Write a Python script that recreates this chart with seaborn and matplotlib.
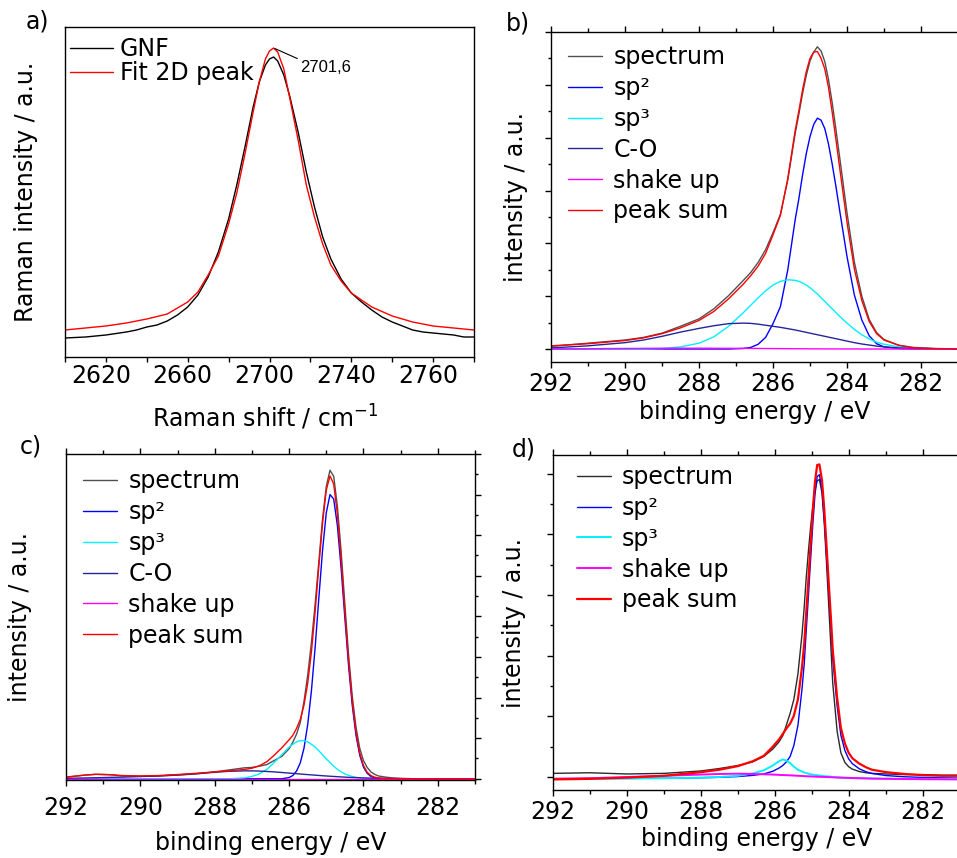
import matplotlib
matplotlib.use("Agg")
import matplotlib.pyplot as plt
import matplotlib.transforms as mtransforms
from matplotlib.ticker import MultipleLocator, FixedLocator
import numpy as np
import pandas as pd
import seaborn as sns

sns.set_style("ticks")
plt.rcParams["font.family"] = ["DejaVu Sans"]
plt.rcParams["mathtext.fontset"] = "dejavusans"
for k in ("text.color", "axes.labelcolor", "xtick.color", "ytick.color", "axes.edgecolor"):
    plt.rcParams[k] = "black"
FS = 17

# ---------------- panel a: Raman 2D band ----------------
gnf_x = [2600, 2605, 2610, 2615, 2620, 2625, 2630, 2635, 2640, 2645, 2650, 2655, 2660, 2665,
         2670, 2675, 2680, 2684, 2688, 2692, 2695, 2698, 2700, 2702, 2704, 2707, 2710, 2714,
         2718, 2722, 2726, 2730, 2735, 2740, 2745, 2750, 2755, 2760, 2765, 2770, 2775, 2780,
         2785, 2790, 2795, 2800]
gnf_y = [0.19, 0.195, 0.20, 0.21, 0.22, 0.235, 0.25, 0.27, 0.30, 0.32, 0.36, 0.42, 0.50, 0.62,
         0.80, 1.05, 1.38, 1.72, 2.10, 2.50, 2.75, 2.92, 2.98, 3.00, 2.96, 2.82, 2.60, 2.25,
         1.85, 1.50, 1.20, 0.98, 0.78, 0.64, 0.55, 0.47, 0.40, 0.35, 0.31, 0.27, 0.25, 0.24,
         0.23, 0.22, 0.20, 0.20]
fit_x = [2600, 2610, 2620, 2630, 2640, 2650, 2655, 2660, 2665, 2670, 2675, 2680, 2684, 2688,
         2692, 2695, 2698, 2700, 2702, 2704, 2707, 2710, 2714, 2718, 2722, 2726, 2730, 2735,
         2740, 2750, 2760, 2770, 2780, 2790, 2800]
fit_y = [0.27, 0.29, 0.31, 0.34, 0.38, 0.43, 0.49, 0.55, 0.65, 0.82, 1.01, 1.33, 1.64, 2.03,
         2.45, 2.75, 2.98, 3.06, 3.09, 3.05, 2.88, 2.58, 2.17, 1.72, 1.40, 1.13, 0.92, 0.76,
         0.64, 0.50, 0.41, 0.35, 0.31, 0.29, 0.27]
raman_tick_pos = [2620, 2660, 2700, 2740, 2780]
raman_tick_lab = ["2620", "2660", "2700", "2740", "2760"]
peak_label = "2701,6"

# ---------------- panel b ----------------
b_x = [292.0, 291.5, 291.0, 290.5, 290.0, 289.5, 289.0, 288.5, 288.0, 287.6, 287.2, 286.8,
       286.6, 286.4, 286.2, 286.0, 285.8, 285.6, 285.4, 285.3, 285.2, 285.1, 285.0, 284.9,
       284.8, 284.7, 284.6, 284.5, 284.4, 284.3, 284.2, 284.0, 283.8, 283.6, 283.4, 283.2,
       283.0, 282.6, 282.2, 281.6, 281.0]
b_spectrum = [0.05, 0.08, 0.11, 0.14, 0.17, 0.22, 0.30, 0.43, 0.57, 0.76, 1.01, 1.30,
              1.45, 1.64, 1.88, 2.20, 2.55, 3.20, 4.08, 4.45, 4.84, 5.18, 5.45, 5.62,
              5.72, 5.64, 5.44, 5.10, 4.66, 4.16, 3.64, 2.58, 1.64, 1.00, 0.56, 0.31,
              0.18, 0.07, 0.03, 0.01, 0.0]
b_sp2 = [0, 0, 0, 0, 0, 0, 0, 0, 0, 0, 0, 0.01,
         0.03, 0.09, 0.22, 0.48, 0.80, 1.50, 2.45, 2.85, 3.30, 3.70, 4.02, 4.25,
         4.37, 4.33, 4.17, 3.88, 3.50, 3.08, 2.63, 1.75, 1.02, 0.55, 0.25, 0.10,
         0.04, 0.01, 0, 0, 0]
b_sp3 = [0, 0, 0, 0, 0, 0, 0.01, 0.04, 0.11, 0.23, 0.43, 0.69,
         0.83, 0.97, 1.10, 1.21, 1.28, 1.31, 1.30, 1.28, 1.25, 1.21, 1.16, 1.10,
         1.04, 0.97, 0.90, 0.83, 0.76, 0.69, 0.62, 0.49, 0.37, 0.27, 0.19, 0.13,
         0.09, 0.04, 0.01, 0, 0]
b_co = [0.02, 0.04, 0.06, 0.09, 0.12, 0.17, 0.24, 0.32, 0.39, 0.44, 0.48, 0.49,
        0.485, 0.47, 0.45, 0.43, 0.41, 0.385, 0.36, 0.345, 0.33, 0.315, 0.30, 0.285,
        0.27, 0.255, 0.24, 0.225, 0.21, 0.195, 0.18, 0.15, 0.12, 0.095, 0.075, 0.055,
        0.04, 0.02, 0.01, 0.005, 0.0]
b_shake = [0.0, 0.0, 0.005, 0.008, 0.01, 0.012, 0.014, 0.015, 0.015, 0.014, 0.013, 0.012,
           0.011, 0.010, 0.009, 0.008, 0.007, 0.006, 0.005, 0.005, 0.004, 0.004, 0.003, 0.003,
           0.003, 0.002, 0.002, 0.002, 0.002, 0.001, 0.001, 0.001, 0.001, 0, 0, 0,
           0, 0, 0, 0, 0]
b_sum = [0.06, 0.08, 0.10, 0.13, 0.16, 0.21, 0.29, 0.40, 0.54, 0.71, 0.95, 1.23,
         1.39, 1.57, 1.81, 2.16, 2.53, 3.23, 4.14, 4.51, 4.91, 5.25, 5.50, 5.62,
         5.63, 5.50, 5.30, 4.95, 4.48, 3.97, 3.44, 2.40, 1.51, 0.92, 0.52, 0.29,
         0.17, 0.07, 0.02, 0.005, 0.0]

# ---------------- panel c ----------------
c_x = [292.0, 291.5, 291.2, 291.0, 290.8, 290.5, 290.0, 289.5, 289.0, 288.5, 288.0,
       287.6, 287.2, 287.0, 286.8, 286.6, 286.4, 286.2,
       286.0, 285.9, 285.8, 285.7, 285.6, 285.5, 285.4, 285.3, 285.2, 285.1, 285.0, 284.9,
       284.8, 284.7, 284.6, 284.5, 284.4, 284.3, 284.2, 284.1, 284.0, 283.9, 283.8, 283.7, 283.6,
       283.4, 283.2, 283.0, 282.6, 282.2, 281.6, 281.0]
c_spectrum = [0.04, 0.09, 0.11, 0.10, 0.10, 0.07, 0.06, 0.07, 0.09, 0.12, 0.17,
              0.22, 0.27, 0.28, 0.31, 0.35, 0.45, 0.55,
              0.74, 0.90, 1.10, 1.38, 1.90, 2.55, 3.35, 4.30, 5.35, 6.40, 7.20, 7.60,
              7.45, 6.70, 5.60, 4.30, 3.05, 2.02, 1.27, 0.75, 0.45, 0.28, 0.17, 0.11, 0.07,
              0.04, 0.02, 0.01, 0.0, 0.0, 0.0, 0.0]
c_sp2 = [0, 0, 0, 0, 0, 0, 0, 0, 0, 0, 0,
         0, 0, 0, 0, 0, 0, 0,
         0.03, 0.08, 0.19, 0.39, 0.75, 1.33, 2.16, 3.23, 4.45, 5.63, 6.55, 7.00,
         6.89, 6.23, 5.18, 3.96, 2.78, 1.80, 1.07, 0.58, 0.29, 0.135, 0.057, 0.022, 0.008,
         0, 0, 0, 0, 0, 0, 0]
c_sp3 = [0, 0, 0, 0, 0, 0, 0, 0, 0, 0, 0,
         0, 0.023, 0.057, 0.12, 0.23, 0.40, 0.59,
         0.78, 0.85, 0.91, 0.94, 0.94, 0.91, 0.85, 0.78, 0.69, 0.59, 0.49, 0.40,
         0.31, 0.23, 0.17, 0.12, 0.085, 0.057, 0.037, 0.023, 0.014, 0.009, 0.005, 0.003, 0.0,
         0, 0, 0, 0, 0, 0, 0]
c_co = [0.01, 0.02, 0.025, 0.03, 0.035, 0.04, 0.055, 0.07, 0.095, 0.125, 0.16,
        0.185, 0.195, 0.195, 0.19, 0.18, 0.17, 0.155,
        0.14, 0.133, 0.125, 0.118, 0.11, 0.103, 0.096, 0.089, 0.082, 0.075, 0.069, 0.063,
        0.057, 0.051, 0.046, 0.041, 0.036, 0.032, 0.028, 0.024, 0.021, 0.018, 0.015, 0.013, 0.011,
        0.008, 0.005, 0.003, 0.001, 0, 0, 0]
c_shake = [0.004, 0.004, 0.004, 0.004, 0.004, 0.004, 0.004, 0.004, 0.004, 0.004, 0.004,
           0.004, 0.004, 0.004, 0.004, 0.004, 0.004, 0.004,
           0.004, 0.004, 0.004, 0.004, 0.004, 0.004, 0.004, 0.004, 0.004, 0.004, 0.004, 0.004,
           0.004, 0.004, 0.004, 0.004, 0.004, 0.004, 0.004, 0.004, 0.004, 0.004, 0.004, 0.004, 0.004,
           0.004, 0.004, 0.004, 0.004, 0.004, 0.004, 0.004]
c_sum = [0.04, 0.09, 0.11, 0.11, 0.10, 0.08, 0.07, 0.08, 0.105, 0.135, 0.17,
         0.195, 0.23, 0.26, 0.32, 0.42, 0.58, 0.76,
         0.96, 1.07, 1.24, 1.46, 1.81, 2.35, 3.12, 4.11, 5.23, 6.30, 7.11, 7.46,
         7.26, 6.51, 5.40, 4.12, 2.90, 1.89, 1.14, 0.63, 0.33, 0.16, 0.08, 0.04, 0.02,
         0.008, 0.005, 0.003, 0.001, 0, 0, 0]

# ---------------- panel d ----------------
d_x = [292.0, 291.0, 290.0, 289.0, 288.5, 288.0, 287.5, 287.0, 286.6, 286.3, 286.06,
       285.89, 285.79, 285.69, 285.59, 285.49, 285.38, 285.27,
       285.21, 285.16, 285.10, 285.04, 284.98, 284.92, 284.86, 284.80, 284.73, 284.67, 284.61,
       284.55, 284.49, 284.44,
       284.32, 284.22, 284.11, 284.01, 283.91,
       283.72, 283.54, 283.38, 283.0, 282.5, 282.0, 281.5, 281.0]
d_spectrum = [0.06, 0.07, 0.05, 0.06, 0.08, 0.10, 0.14, 0.19, 0.25, 0.34, 0.46,
              0.58, 0.68, 0.86, 1.05, 1.28, 1.70, 2.35,
              2.80, 3.25, 3.70, 4.10, 4.45, 4.72, 4.88, 4.90, 4.68, 4.20, 3.55, 2.85, 2.15, 1.55,
              0.75, 0.40, 0.24, 0.17, 0.13,
              0.09, 0.07, 0.06, 0.05, 0.04, 0.04, 0.03, 0.03]
d_sp2 = [-0.027, -0.025, -0.023, -0.02, -0.017, -0.012, -0.005, 0.008, 0.027, 0.051, 0.095,
         0.148, 0.19, 0.25, 0.34, 0.52, 0.85, 1.45,
         1.87, 2.37, 2.95, 3.56, 4.15, 4.65, 4.95, 4.98, 4.73, 4.26, 3.68, 3.07, 2.49, 1.96,
         1.17, 0.69, 0.435, 0.30, 0.22,
         0.135, 0.087, 0.058, 0.024, 0.004, -0.007, -0.013, -0.017]
d_sp3 = [-0.03, -0.03, -0.025, -0.02, -0.015, -0.01, 0.0, 0.02, 0.06, 0.11, 0.19,
         0.26, 0.29, 0.27, 0.23, 0.17, 0.12, 0.09,
         0.075, 0.065, 0.055, 0.045, 0.04, 0.035, 0.03, 0.025, 0.02, 0.015, 0.012, 0.01, 0.005, 0.0,
         -0.005, -0.01, -0.012, -0.015, -0.017,
         -0.02, -0.022, -0.025, -0.027, -0.03, -0.03, -0.03, -0.03]
d_shake = [-0.03, -0.02, 0.0, 0.02, 0.03, 0.04, 0.05, 0.055, 0.05, 0.045, 0.04,
           0.035, 0.032, 0.03, 0.027, 0.024, 0.02, 0.017,
           0.015, 0.013, 0.011, 0.01, 0.008, 0.006, 0.005, 0.003, 0.002, 0.0, -0.001, -0.002,
           -0.003, -0.005,
           -0.008, -0.01, -0.013, -0.015, -0.017,
           -0.02, -0.023, -0.026, -0.03, -0.033, -0.036, -0.038, -0.04]
d_sum = [-0.04, -0.03, -0.01, 0.02, 0.05, 0.08, 0.12, 0.18, 0.26, 0.35, 0.50,
         0.62, 0.71, 0.80, 0.88, 1.01, 1.28, 1.81,
         2.20, 2.67, 3.22, 3.81, 4.38, 4.86, 5.14, 5.15, 4.89, 4.42, 3.83, 3.22, 2.63, 2.10,
         1.30, 0.81, 0.55, 0.40, 0.31,
         0.22, 0.16, 0.12, 0.08, 0.05, 0.03, 0.02, 0.02]

xps_ticks = [292, 290, 288, 286, 284, 282]

C_SPEC = "#505050"
C_SP2 = "#0000ff"
C_SP3 = "#00f0ff"
C_CO = "#25259a"
C_SHAKE = "#ff00ff"
C_SUM = "#ff0000"

W, H = 957, 858
fig = plt.figure(figsize=(W / 100, H / 100), dpi=100)


def add_ax(l, t, r, b):
    return fig.add_axes([l / W, 1 - b / H, (r - l) / W, (b - t) / H])


def draw(ax, x, series):
    for label, y, color, lw in series:
        df = pd.DataFrame({"x": x, "y": y})
        sns.lineplot(data=df, x="x", y="y", ax=ax, color=color, linewidth=lw,
                     label=label, sort=False, estimator=None)


ax_a = add_ax(65, 27, 474, 357)
ax_b = add_ax(551, 32, 958, 362)
ax_c = add_ax(66, 454, 475, 780)
ax_d = add_ax(553, 455, 960, 790)

# ---- panel a ----
sns.lineplot(x=gnf_x, y=gnf_y, ax=ax_a, color="black", linewidth=1.0, label="GNF",
             sort=False, estimator=None)
sns.lineplot(x=fit_x, y=fit_y, ax=ax_a, color="#ff0000", linewidth=1.0, label="Fit 2D peak",
             sort=False, estimator=None)
ax_a.set_xlim(2600, 2800)
ax_a.set_ylim(0, 3.30)
ax_a.xaxis.set_major_locator(FixedLocator(raman_tick_pos))
ax_a.set_xticklabels(raman_tick_lab)
ax_a.xaxis.set_minor_locator(MultipleLocator(20))
ax_a.tick_params(axis="x", which="both", direction="out", length=3.8, width=1.0,
                 labelsize=FS, pad=1.5, top=False)
ax_a.tick_params(axis="y", which="both", left=False, labelleft=False)
for lbl in ax_a.get_xticklabels():
    lbl.set_transform(lbl.get_transform() +
                      mtransforms.ScaledTranslation(-5 / 100, 0, fig.dpi_scale_trans))
ax_a.set_xlabel(r"Raman shift / cm$^{-1}$", fontsize=FS)
ax_a.set_ylabel("Raman intensity / a.u.", fontsize=FS)
ax_a.xaxis.set_label_coords(0.49, -0.14)
ax_a.yaxis.set_label_coords(-0.066, 0.5)
imax = int(np.argmax(fit_y))
ax_a.annotate(peak_label, xy=(fit_x[imax], fit_y[imax]), xytext=(27, -24),
              textcoords="offset pixels", ha="left", va="baseline",
              fontsize=12, family=["Liberation Sans", "DejaVu Sans"],
              arrowprops=dict(arrowstyle="-", color="black", lw=0.8,
                              relpos=(0, 1), shrinkA=0, shrinkB=1))
ax_a.legend(loc="upper left", bbox_to_anchor=(0.012, 0.969), frameon=False, fontsize=FS,
            handlelength=1.82, handletextpad=0.3, labelspacing=0.0,
            borderaxespad=0, borderpad=0)

# ---- XPS panels ----
def xps_common(ax, ylim, ymaj):
    ax.set_xlim(292, 281)
    ax.set_ylim(*ylim)
    ax.xaxis.set_major_locator(FixedLocator(xps_ticks))
    ax.xaxis.set_minor_locator(MultipleLocator(1))
    ax.yaxis.set_major_locator(MultipleLocator(ymaj))
    ax.yaxis.set_minor_locator(MultipleLocator(ymaj / 2))
    ax.set_xlabel("binding energy / eV", fontsize=FS)
    ax.set_ylabel("intensity / a.u.", fontsize=FS)


def xps_legend(ax, y):
    ax.legend(loc="upper left", bbox_to_anchor=y, frameon=False, fontsize=FS,
              handlelength=1.44, handletextpad=0.47, labelspacing=0.29,
              borderaxespad=0, borderpad=0)


draw(ax_b, b_x, [("spectrum", b_spectrum, C_SPEC, 1.0),
                 ("sp\u00b2", b_sp2, C_SP2, 1.0),
                 ("sp\u00b3", b_sp3, C_SP3, 1.0),
                 ("C-O", b_co, C_CO, 1.0),
                 ("shake up", b_shake, C_SHAKE, 1.0),
                 ("peak sum", b_sum, C_SUM, 1.0)])
xps_common(ax_b, (-0.246, 6.0), 1)
ax_b.spines["right"].set_visible(False)
ax_b.tick_params(axis="x", which="major", direction="out", length=4, width=1.0,
                 labelsize=FS, pad=3, top=True, bottom=True)
ax_b.tick_params(axis="x", which="minor", direction="out", length=3, width=1.0,
                 top=True, bottom=True)
ax_b.tick_params(axis="y", which="major", direction="out", length=4.5, width=1.0,
                 left=True, right=False, labelleft=False)
ax_b.tick_params(axis="y", which="minor", direction="out", length=2.5, width=1.0,
                 left=True, right=False)
ax_b.xaxis.set_label_coords(0.5, -0.115)
ax_b.yaxis.set_label_coords(-0.057, 0.5)
xps_legend(ax_b, (0.042, 0.96))

draw(ax_c, c_x, [("spectrum", c_spectrum, C_SPEC, 1.0),
                 ("sp\u00b2", c_sp2, C_SP2, 1.0),
                 ("sp\u00b3", c_sp3, C_SP3, 1.0),
                 ("C-O", c_co, C_CO, 1.0),
                 ("shake up", c_shake, C_SHAKE, 1.0),
                 ("peak sum", c_sum, C_SUM, 1.0)])
xps_common(ax_c, (-0.03, 8.0), 1)
ax_c.tick_params(axis="x", which="major", direction="out", length=4.5, width=1.0,
                 labelsize=FS, pad=7, top=True, bottom=True)
ax_c.tick_params(axis="x", which="minor", direction="out", length=3, width=1.0,
                 top=True, bottom=True)
ax_c.tick_params(axis="y", which="major", direction="out", length=4.5, width=1.0,
                 left=False, right=True, labelleft=False, labelright=False)
ax_c.tick_params(axis="y", which="minor", direction="out", length=2.5, width=1.0,
                 left=False, right=True)
ax_c.xaxis.set_label_coords(0.5, -0.155)
ax_c.yaxis.set_label_coords(-0.083, 0.5)
xps_legend(ax_c, (0.042, 0.953))

draw(ax_d, d_x, [("spectrum", d_spectrum, "#2a2a2a", 1.0),
                 ("sp\u00b2", d_sp2, C_SP2, 1.0),
                 ("sp\u00b3", d_sp3, C_SP3, 1.4),
                 ("shake up", d_shake, C_SHAKE, 1.4),
                 ("peak sum", d_sum, C_SUM, 1.6)])
xps_common(ax_d, (-0.214, 5.305), 1)
ax_d.spines["right"].set_visible(False)
ax_d.tick_params(axis="x", which="major", direction="out", length=4, width=1.0,
                 labelsize=FS, pad=3, top=True, bottom=True)
ax_d.tick_params(axis="x", which="minor", direction="out", length=3, width=1.0,
                 top=True, bottom=True)
ax_d.tick_params(axis="y", which="major", direction="out", length=4.5, width=1.0,
                 left=True, right=False, labelleft=False)
ax_d.tick_params(axis="y", which="minor", direction="out", length=2.5, width=1.0,
                 left=True, right=False)
ax_d.xaxis.set_label_coords(0.5, -0.11)
ax_d.yaxis.set_label_coords(-0.066, 0.5)
xps_legend(ax_d, (0.059, 0.970))

for ax in (ax_a, ax_b, ax_c, ax_d):
    for s in ax.spines.values():
        s.set_linewidth(1.0)
        s.set_color("black")

fig.text(37 / W, 1 - 22 / H, "a)", ha="center", va="center", fontsize=FS)
fig.text(518 / W, 1 - 24 / H, "b)", ha="center", va="center", fontsize=FS)
fig.text(31 / W, 1 - 446 / H, "c)", ha="center", va="center", fontsize=FS)
fig.text(524 / W, 1 - 449 / H, "d)", ha="center", va="center", fontsize=FS)

fig.savefig("out.png", dpi=100)
